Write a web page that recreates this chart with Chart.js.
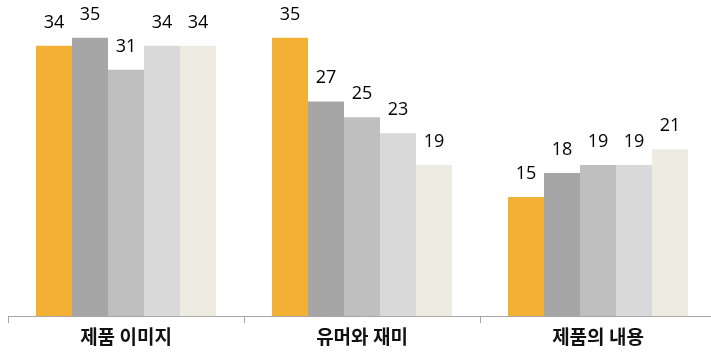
<!DOCTYPE html>
<html><head><meta charset="utf-8">
<script src="https://cdn.jsdelivr.net/npm/chart.js@4.4.1/dist/chart.umd.min.js"></script>
<style>
html,body{margin:0;padding:0;background:#fff;overflow:hidden;width:711px;height:354px;}
#wrap{position:relative;width:716px;height:354px;}
</style></head>
<body>
<div id="wrap"><canvas id="c" width="716" height="354"></canvas></div>
<script>
const categories = ['제품 이미지', '유머와 재미', '제품의 내용'];
const series1 = [34, 35, 15];
const series2 = [35, 27, 18];
const series3 = [31, 25, 19];
const series4 = [34, 23, 19];
const series5 = [34, 19, 21];
const seriesColors = ['#F2B134', '#A6A6A6', '#BFBFBF', '#D9D9D9', '#EEEBE0'];

const labelPlugin = {
  id: 'barLabels',
  afterDatasetsDraw(chart) {
    const ctx = chart.ctx;
    ctx.save();
    ctx.font = '18px "Open Sans"';
    ctx.fillStyle = '#000';
    ctx.textAlign = 'center';
    ctx.textBaseline = 'alphabetic';
    chart.data.datasets.forEach((ds, i) => {
      chart.getDatasetMeta(i).data.forEach((bar, j) => {
        ctx.fillText(String(ds.data[j]), bar.x, bar.y - 18);
      });
    });
    ctx.restore();
  }
};

const all = [series1, series2, series3, series4, series5];
new Chart(document.getElementById('c'), {
  type: 'bar',
  data: {
    labels: categories,
    datasets: all.map((d, i) => ({
      data: d,
      backgroundColor: seriesColors[i],
      borderWidth: 0,
      barPercentage: 1,
      categoryPercentage: 0.763
    }))
  },
  options: {
    responsive: false,
    animation: false,
    layout: { padding: { left: 8, right: 0, top: 6, bottom: 4 } },
    plugins: { legend: { display: false }, tooltip: { enabled: false } },
    scales: {
      y: { display: false, min: 0, max: 39 },
      x: {
        grid: { display: true, drawOnChartArea: false, drawTicks: true, tickLength: 7, color: '#A6A6A6', offset: true },
        border: { display: true, color: '#A6A6A6', width: 1 },
        ticks: { color: '#111', font: { family: '"Noto Sans CJK KR"', size: 19, weight: 'bold' }, padding: 2 }
      }
    }
  },
  plugins: [labelPlugin]
});
</script>
</body></html>
